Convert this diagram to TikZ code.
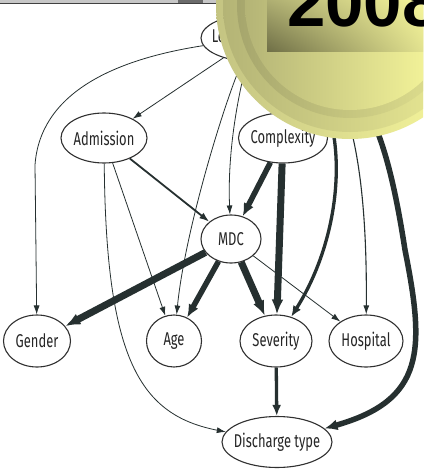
\documentclass[tikz,border=0pt]{standalone}
\usepackage{fontspec}
\newfontfamily\nodefont[FakeStretch=0.7]{Fira Sans}
\newfontfamily\yearfont{Liberation Sans}
\usetikzlibrary{shapes.geometric,arrows.meta,shadings}

\definecolor{edgecol}{HTML}{263030}
\definecolor{rimcol}{HTML}{303030}
\definecolor{olvdark}{HTML}{6E6E46}
\definecolor{olvmid}{HTML}{B4B476}
\definecolor{olvlite}{HTML}{C4C482}
\definecolor{yelmid}{HTML}{E6E692}
\definecolor{yellite}{HTML}{FCFC9E}

% label box of zero width, so the ellipse keeps its given size
\newcommand{\vname}[1]{\makebox[0pt]{#1}}

\begin{document}
\begin{tikzpicture}[x=1pt,y=-1pt,
	var/.style={ellipse,draw=rimcol,line width=1.1pt,fill=white,inner sep=0pt,minimum height=50pt,
		font=\nodefont\fontsize{18.5}{20}\selectfont,text=black!85},
	thinedge/.style={draw=edgecol,line width=0.8pt,-{Latex[length=9pt,width=6pt]}},
	lightedge/.style={draw=edgecol,line width=1.8pt,-{Latex[length=10pt,width=7pt]}},
	midedge/.style={draw=edgecol,line width=3.3pt,-{Latex[length=11pt,width=9pt]}},
	boldedge/.style={draw=edgecol,line width=5.5pt,-{Latex[length=13pt,width=11pt]}},
	heavyedge/.style={draw=edgecol,line width=7pt,-{Latex[length=15pt,width=12pt]}}]
	\clip (0,0) rectangle (423,476);
	\fill[white] (0,0) rectangle (423,476);

	%nodes
	\node[var,minimum width=104pt,minimum height=47pt] (los) at (253,38) {\vname{Length of stay}};
	\node[var,minimum width=86pt] (adm) at (104,138) {\vname{Admission}};
	\node[var,minimum width=89pt] (cpx) at (283,138) {\vname{Complexity}};
	\node[var,minimum width=60pt,minimum height=48pt] (mdc) at (231,239) {\vname{MDC}};
	\node[var,minimum width=67pt,minimum height=52pt] (gen) at (37,341) {\vname{Gender}};
	\node[var,minimum width=55pt,minimum height=52pt] (age) at (174,341) {\vname{Age}};
	\node[var,minimum width=72pt,minimum height=52pt] (sev) at (276,341) {\vname{Severity}};
	\node[var,minimum width=74pt,minimum height=52pt] (hos) at (366,341) {\vname{Hospital}};
	\node[var,minimum width=110pt,minimum height=51pt] (dis) at (277,442) {\vname{Discharge type}};

	%edges out of length of stay
	\draw[thinedge] (los) .. controls (110,60) and (40,95) .. (35,165) -- (gen); %to gender
	\draw[thinedge] (los) -- (adm); %to admission
	\draw[thinedge] (los) .. controls (225,100) and (185,230) .. (age); %to age
	\draw[thinedge] (los) .. controls (232,120) and (228,170) .. (mdc); %to MDC
	\draw[midedge] (los) -- (cpx); %to complexity
	\draw[midedge] (los) .. controls (350,90) and (352,220) .. (sev); %to severity
	\draw[thinedge,line width=1.1pt] (los) .. controls (330,60) and (368,110) .. (hos); %to hospital
	\draw[boldedge] (los) .. controls (360,70) and (385,120) .. (405,250)
		.. controls (425,350) and (425,400) .. (dis); %to discharge type

	%edges out of admission
	\draw[lightedge] (adm) -- (mdc);
	\draw[thinedge] (adm) -- (age);
	\draw[thinedge] (adm) .. controls (106,360) and (140,415) .. (dis);

	%edges out of complexity
	\draw[boldedge] (cpx) -- (mdc);
	\draw[heavyedge] (cpx) -- (sev);

	%edges out of MDC
	\draw[heavyedge] (mdc) -- (gen);
	\draw[boldedge] (mdc) -- (age);
	\draw[heavyedge] (mdc) -- (sev);
	\draw[thinedge] (mdc) -- (hos);

	%severity to discharge
	\draw[midedge] (sev) -- (dis);

	%window bar
	\fill[black!22] (0,0) rectangle (240,3);
	\fill[black!58] (178,0) rectangle (203,3);
	\draw[black!75,line width=1pt] (0,3.5) -- (240,3.5);

	%year badge
	\shade[shading angle=45,left color=olvlite,right color=yellite] (350,5) circle (134pt);
	\shade[shading angle=45,left color=olvmid,right color=yelmid!60!yellite] (350,5) circle (127pt);
	\shade[shading angle=45,left color=olvmid!92!black,right color=yelmid] (350,5) circle (113pt);
	\shade[shading angle=45,left color=olvmid,right color=yellite] (350,5) circle (105pt);
	\shade[lower left=olvdark,upper right=yellite,upper left=olvmid,lower right=yelmid] (267,-5) rectangle (430,52);
	\node[anchor=base west,inner sep=0pt,font=\yearfont\bfseries\fontsize{69}{70}\selectfont] (year) at (287,27) {2008};
\end{tikzpicture}
\end{document}
